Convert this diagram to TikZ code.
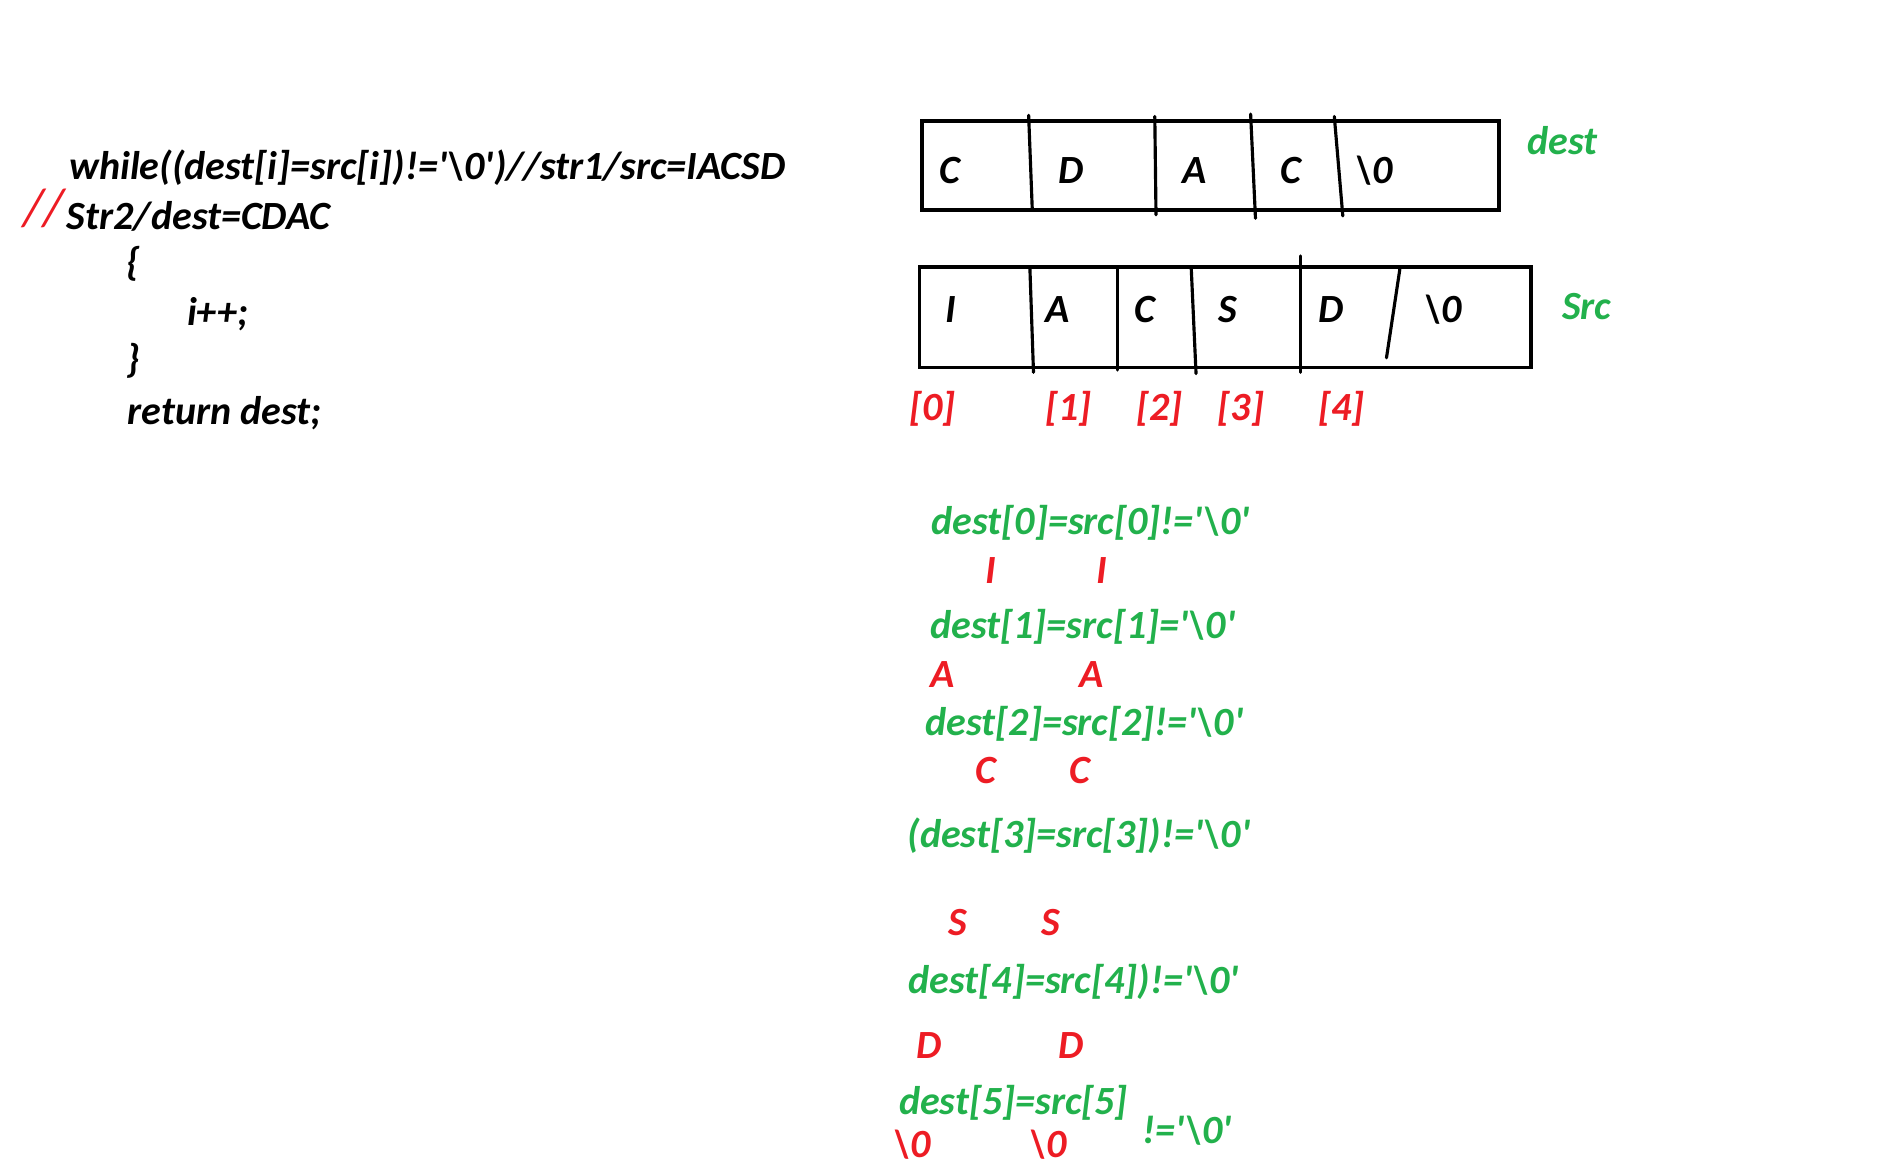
\documentclass[tikz,border=0pt]{standalone}
\usepackage{fontspec}
\setmainfont{Carlito}
\definecolor{pgreen}{HTML}{22B14C}
\definecolor{pred}{HTML}{ED1C24}
\begin{document}
\begin{tikzpicture}[x=1pt,y=-1pt,
  txt/.style={font=\fontsize{33}{38}\selectfont\bfseries\itshape, inner sep=0pt, anchor=base west},
  ctxt/.style={txt, anchor=base},
  grn/.style={txt, text=pgreen},
  cgrn/.style={ctxt, text=pgreen},
  rd/.style={ctxt, text=pred},
  boxline/.style={draw, line width=3pt},
  divline/.style={draw, line width=2.6pt, line cap=round}]
\useasboundingbox (0,0) rectangle (1568,964);
% code
\node[txt] (l1) at (57,148) {while((dest[i]=src[i])!=\textquotesingle\textbackslash 0\textquotesingle)//str1/src=IACSD};
\node[txt, text=pred, font=\fontsize{44}{50}\selectfont\itshape] (sl) at (19,186) {//};
\node[txt] (l2) at (55,189) {Str2/dest=CDAC};
\node[txt] (l3) at (104,227) {\{};
\node[txt] (l4) at (154,268) {i++;};
\node[txt] (l5) at (104,307) {\}};
\node[txt] (l6) at (105,350) {return dest;};
% dest box
\draw[boxline] (760,100) rectangle (1236,173);
\draw[divline] (848,95) -- (851,173);
\draw[divline] (952,96) -- (953,177);
\draw[divline] (1031,94) -- (1035,180);
\draw[divline] (1100,96) -- (1107,178);
\node[ctxt] (dc0) at (783,151) {C};
\node[ctxt] (dc1) at (883,151) {D};
\node[ctxt] (dc2) at (985,151) {A};
\node[ctxt] (dc3) at (1064,151) {C};
\node[ctxt] (dc4) at (1133,151) {\textbackslash 0};
\node[cgrn] (destlbl) at (1288,127) {dest};
% src box
\draw[boxline] (758,220) rectangle (1262,303);
\draw[divline] (849,220) -- (852,307);
\draw[divline] (921,220) -- (921,305);
\draw[divline] (982,220) -- (986,308);
\draw[divline] (1072,211) -- (1072,307);
\draw[divline] (1154,222) -- (1143,295);
\node[ctxt] (sc0) at (784,266) {I};
\node[ctxt] (sc1) at (872,266) {A};
\node[ctxt] (sc2) at (944,266) {C};
\node[ctxt] (sc3) at (1012,266) {S};
\node[ctxt] (sc4) at (1097,266) {D};
\node[ctxt] (sc5) at (1190,266) {\textbackslash 0};
\node[cgrn] (srclbl) at (1308,263) {Src};
% indices
\node[rd] (i0) at (769,347) {[0]};
\node[rd] (i1) at (881,347) {[1]};
\node[rd] (i2) at (956,347) {[2]};
\node[rd] (i3) at (1023,347) {[3]};
\node[rd] (i4) at (1106,347) {[4]};
% steps
\node[grn] (g0) at (768,441) {dest[0]=src[0]!=\textquotesingle\textbackslash 0\textquotesingle};
\node[rd] (r0a) at (817,481) {I};
\node[rd] (r0b) at (908,481) {I};
\node[grn] (g1) at (767,526) {dest[1]=src[1]=\textquotesingle\textbackslash 0\textquotesingle};
\node[rd] (r1a) at (777,567) {A};
\node[rd] (r1b) at (900,567) {A};
\node[grn] (g2) at (763,606) {dest[2]=src[2]!=\textquotesingle\textbackslash 0\textquotesingle};
\node[rd] (r2a) at (813,646) {C};
\node[rd] (r2b) at (890,646) {C};
\node[grn] (g3) at (748,699) {(dest[3]=src[3])!=\textquotesingle\textbackslash 0\textquotesingle};
\node[rd] (r3a) at (790,771) {S};
\node[rd] (r3b) at (866,771) {S};
\node[grn] (g4) at (749,819) {dest[4]=src[4])!=\textquotesingle\textbackslash 0\textquotesingle};
\node[rd] (r4a) at (766,873) {D};
\node[rd] (r4b) at (883,873) {D};
\node[grn] (g5) at (741,919) {dest[5]=src[5]};
\node[grn] (g5b) at (942,943) {!=\textquotesingle\textbackslash 0\textquotesingle};
\node[rd] (r5a) at (752,954) {\textbackslash 0};
\node[rd] (r5b) at (864,954) {\textbackslash 0};
\end{tikzpicture}
\end{document}
